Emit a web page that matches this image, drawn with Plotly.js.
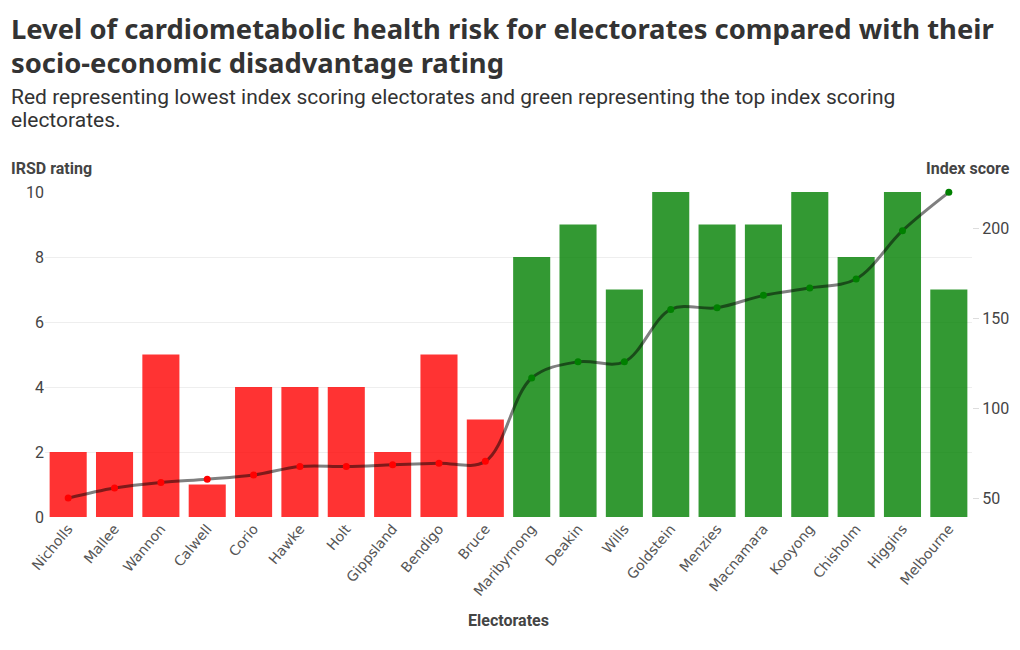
<!DOCTYPE html>
<html>
<head>
<meta charset="utf-8">
<script src="https://cdn.plot.ly/plotly-3.0.1.min.js"></script>
<style>html,body{margin:0;padding:0;background:#fff;}#chart{width:1020px;height:650px;}</style>
</head>
<body>
<div id="chart"></div>
<script>
const electorates = ["Nicholls","Mallee","Wannon","Calwell","Corio","Hawke","Holt","Gippsland","Bendigo","Bruce","Maribyrnong","Deakin","Wills","Goldstein","Menzies","Macnamara","Kooyong","Chisholm","Higgins","Melbourne"];
const irsdRating = [2,2,5,1,4,4,4,2,5,3,8,9,7,10,9,9,10,8,10,7];
const indexScore = [50,55.6,58.7,60.5,62.8,67.6,67.6,68.5,69.4,70.4,116.7,125.7,125.7,154.8,155.7,162.6,166.7,171.7,198.5,219.8];
const group = ["low","low","low","low","low","low","low","low","low","low","high","high","high","high","high","high","high","high","high","high"];
const titleLines = ["Level of cardiometabolic health risk for electorates compared with their", "socio-economic disadvantage rating"];
const subtitleLines = ["Red representing lowest index scoring electorates and green representing the top index scoring", "electorates."];

const colorFor = g => g === "low" ? "rgb(255,0,0)" : "rgb(0,128,0)";
const font = "Roboto, 'Noto Sans', sans-serif";

const W = 1020, H = 650, L = 45, R = 48, T = 192, B = 133;
const pw = W - L - R, ph = H - T - B;
const px = x => (x - L) / pw;
const py = y => (H - B - y) / ph;

const traces = [
  {
    type: "bar",
    x: electorates,
    y: irsdRating,
    marker: { color: group.map(colorFor), opacity: 0.8 },
    hoverinfo: "x+y",
    showlegend: false
  },
  {
    type: "scatter",
    mode: "lines+markers",
    x: electorates,
    y: indexScore,
    yaxis: "y2",
    line: { shape: "spline", color: "rgba(0,0,0,0.5)", width: 3 },
    marker: { color: group.map(colorFor), size: 7 },
    cliponaxis: false,
    showlegend: false
  }
];

const textAnn = (text, top, size, fam, bold) => ({
  text: bold ? "<b>" + text + "</b>" : text,
  xref: "paper", yref: "paper", x: px(9), y: py(top), xanchor: "left", yanchor: "top",
  showarrow: false, align: "left",
  font: { family: fam, size: size, color: "#333" }
});

const layout = {
  width: W,
  height: H,
  paper_bgcolor: "#fff",
  plot_bgcolor: "#fff",
  margin: { l: L, r: R, t: T, b: B },
  font: { family: font, color: "#444" },
  bargap: 0.2,
  xaxis: {
    type: "category",
    automargin: false,
    range: [-0.5, electorates.length - 0.5],
    tickangle: -50,
    tickfont: { family: "'DejaVu Sans', sans-serif", size: 14, color: "#555" },
    showgrid: false,
    showline: false,
    ticks: "",
    title: { text: "Electorates", font: { family: font, size: 16, color: "#444", weight: 700 }, standoff: 16 }
  },
  yaxis: {
    automargin: false,
    range: [0, 10],
    dtick: 2,
    showgrid: true,
    gridcolor: "#eee",
    zeroline: false,
    tickfont: { family: font, size: 16, color: "#444" },
    ticks: ""
  },
  yaxis2: {
    automargin: false,
    overlaying: "y",
    side: "right",
    range: [39.5, 220],
    tickvals: [50, 100, 150, 200],
    showgrid: false,
    zeroline: false,
    ticks: "outside",
    ticklen: 6,
    tickcolor: "#ddd",
    tickfont: { family: font, size: 16, color: "#444" }
  },
  annotations: [
    textAnn(titleLines[0], 8, 27.4, "'Noto Sans', sans-serif", true),
    textAnn(titleLines[1], 42, 27.4, "'Noto Sans', sans-serif", true),
    textAnn(subtitleLines[0], 83, 21, font, false),
    textAnn(subtitleLines[1], 106, 21, font, false),
    {
      text: "<b>IRSD rating</b>",
      xref: "paper", yref: "paper", x: px(9), y: py(180), xanchor: "left", yanchor: "bottom",
      showarrow: false, font: { family: font, size: 16, color: "#444" }
    },
    {
      text: "<b>Index score</b>",
      xref: "paper", yref: "paper", x: px(1012), y: py(180), xanchor: "right", yanchor: "bottom",
      showarrow: false, font: { family: font, size: 16, color: "#444" }
    }
  ]
};

Plotly.newPlot("chart", traces, layout, { displayModeBar: false, staticPlot: true });
</script>
</body>
</html>
